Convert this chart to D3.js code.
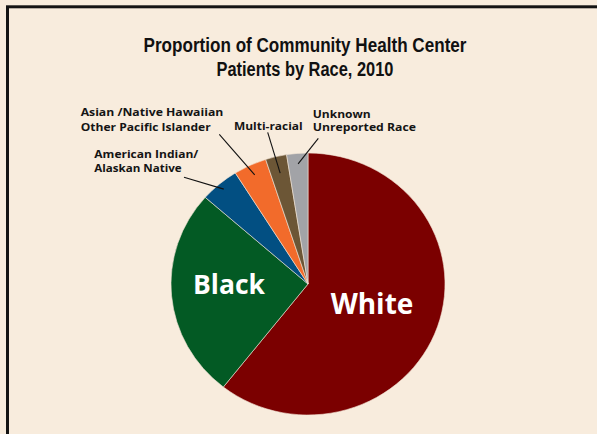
<!DOCTYPE html>
<html>
<head>
<meta charset="utf-8">
<script src="https://cdn.jsdelivr.net/npm/d3@7"></script>
<style>
  html, body { margin: 0; padding: 0; background: #f8ecdd; overflow: hidden; }
  svg { display: block; }
</style>
</head>
<body>
<svg id="chart" width="597" height="434"></svg>
<script>
// Patients by race, share of total (%)
const races = ["White", "Black", "American Indian/Alaskan Native",
               "Asian/Native Hawaiian Other Pacific Islander", "Multi-racial",
               "Unknown Unreported Race"];
const shares = [60.6, 25.9, 4.6, 3.9, 2.5, 2.5];
const sliceColors = ["#7b0000", "#035a24", "#024f82", "#f26b2b", "#6c5636", "#a2a3a7"];

const titleLines = ["Proportion of Community Health Center", "Patients by Race, 2010"];

const svg = d3.select("#chart");
const W = 597, H = 434;
const cx = 308, cy = 284, ry = 131, rx = 137;
const sans = "'Open Sans', 'Noto Sans', sans-serif";
const narrow = "'Liberation Sans Narrow', 'Liberation Sans', Arial, sans-serif";

svg.append("rect").attr("width", W).attr("height", H).attr("fill", "#f8ecdd");
// frame running off the right and bottom edges
svg.append("rect")
  .attr("x", 7.5).attr("y", 6.8).attr("width", W + 20).attr("height", H + 20)
  .attr("fill", "none").attr("stroke", "#141414").attr("stroke-width", 3);

// fit a text (or tspan) element to a target width
function fit(sel, w) {
  sel.each(function() {
    const n = this.getComputedTextLength();
    if (Math.abs(n - w) > 1) {
      d3.select(this).attr("textLength", w).attr("lengthAdjust", "spacingAndGlyphs");
    }
  });
}

// title, in a narrow face
const titleLayout = [{ y: 51.7, w: 323 }, { y: 75.7, w: 177 }];
titleLines.forEach((t, i) => {
  svg.append("text")
    .attr("x", 305).attr("y", titleLayout[i].y)
    .attr("text-anchor", "middle")
    .attr("font-family", narrow).attr("font-weight", 700).attr("font-size", 20)
    .attr("fill", "#111").text(t)
    .call(fit, titleLayout[i].w);
});

// pie
const pie = d3.pie().sort(null).value(d => d)(shares);
const arc = d3.arc().innerRadius(0).outerRadius(ry);
const g = svg.append("g")
  .attr("transform", `translate(${cx},${cy}) scale(${rx / ry},1)`);

g.selectAll("path").data(pie).join("path")
  .attr("d", arc)
  .attr("fill", (d, i) => sliceColors[i])
  .attr("stroke", "#f3e6d6")
  .attr("stroke-width", 0.6)
  .attr("vector-effect", "non-scaling-stroke");

// point on the ellipse at a given pie angle and radius fraction
function at(angle, frac) {
  return [cx + Math.sin(angle) * rx * frac, cy - Math.cos(angle) * ry * frac];
}

// large in-slice labels
const bigLabels = [
  { i: 1, text: "Black", x: 229, y: 294, size: 26, w: 72 },
  { i: 0, text: "White", x: 372, y: 314, size: 28, w: 83 }
];
bigLabels.forEach(b => {
  svg.append("text")
    .attr("x", b.x).attr("y", b.y).attr("text-anchor", "middle")
    .attr("font-family", sans).attr("font-weight", 700).attr("font-size", b.size)
    .attr("fill", "#ffffff").text(b.text)
    .call(fit, b.w);
});

// small outside labels with leader lines
const smallLabels = [
  { i: 2, lines: ["American Indian/", "Alaskan Native"], x: 94.3, y: 158.3, gap: 13.4, w: [104, 87.4],
    from: [184, 177.3], frac: 0.95 },
  { i: 3, lines: ["Asian /Native Hawaiian", "Other Pacific Islander"], x: 80.7, y: 115.7, gap: 15, w: [142.6, 130],
    from: [219.3, 134.3], frac: 0.92 },
  { i: 4, lines: ["Multi-racial"], x: 234, y: 130, gap: 0, w: [68.7],
    from: [267.7, 132.3], frac: 0.87 },
  { i: 5, lines: ["Unknown", "Unreported Race"], x: 312.7, y: 117.7, gap: 13, w: [58, 103.3],
    from: [318.3, 138.3], frac: 0.92 }
];
smallLabels.forEach(s => {
  const txt = svg.append("text")
    .attr("font-family", sans).attr("font-weight", 700).attr("font-size", 10.6)
    .attr("fill", "#141414");
  s.lines.forEach((t, k) => {
    txt.append("tspan")
      .attr("x", s.x).attr("y", s.y + k * s.gap)
      .text(t)
      .call(fit, s.w[k]);
  });
  const p = pie[s.i];
  const end = at((p.startAngle + p.endAngle) / 2, s.frac);
  svg.append("line")
    .attr("x1", s.from[0]).attr("y1", s.from[1])
    .attr("x2", end[0]).attr("y2", end[1])
    .attr("stroke", "#111").attr("stroke-width", 1.1);
});
</script>
</body>
</html>
